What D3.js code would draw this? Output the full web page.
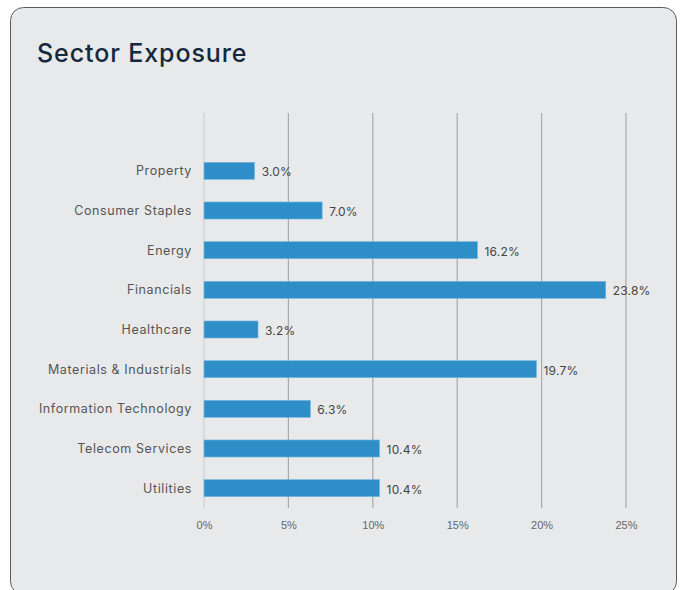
<!DOCTYPE html>
<html lang="en">
<head>
  <meta charset="UTF-8" />
  <title>Sector Exposure</title>
  <style>
    html, body { margin: 0; padding: 0; background: #fff; font-family: Inter, sans-serif; }
    svg { display: block; }
    .cat { font-size: 12.5px; fill: #555; text-anchor: end; dominant-baseline: central; letter-spacing: 0.6px; }
    .val { font-size: 12px; fill: #444; dominant-baseline: central; letter-spacing: 0.2px; }
    .tick text { font-size: 11px; fill: #666; }
  </style>
</head>
<body>
  <svg width="683" height="590"></svg>
  <script src="https://d3js.org/d3.v7.min.js"></script>
  <script>
    const sectors = ["Property", "Consumer Staples", "Energy", "Financials", "Healthcare",
                     "Materials & Industrials", "Information Technology", "Telecom Services", "Utilities"];
    const weights = [3.0, 7.0, 16.2, 23.8, 3.2, 19.7, 6.3, 10.4, 10.4];
    const xTicks = [0, 5, 10, 15, 20, 25];

    const svg = d3.select("svg");

    // card
    svg.append("rect")
      .attr("x", 10.5).attr("y", 7.5)
      .attr("width", 666).attr("height", 587)
      .attr("rx", 13)
      .attr("fill", "#e8e9eb")
      .attr("stroke", "#5a5a5a")
      .attr("stroke-width", 1);

    svg.append("text")
      .attr("x", 37).attr("y", 62)
      .attr("font-size", 25)
      .attr("font-weight", 500)
      .attr("letter-spacing", "0.9px")
      .attr("fill", "#13293d")
      .text("Sector Exposure");

    const x = d3.scaleLinear().domain([0, 25]).range([204, 626]);
    const y = d3.scaleBand().domain(sectors).range([151, 508]).paddingInner(0.57).paddingOuter(0.285);

    // gridlines
    svg.append("g").selectAll("line")
      .data(xTicks)
      .join("line")
      .attr("x1", d => x(d)).attr("x2", d => x(d))
      .attr("y1", 113).attr("y2", 508)
      .attr("stroke", d => d === 0 ? "#cfd0d2" : "#a9a9a9")
      .attr("stroke-width", 1.2);

    // x axis labels
    const axis = svg.append("g")
      .attr("transform", "translate(0,518)")
      .call(d3.axisBottom(x).tickValues(xTicks).tickFormat(d => d + "%").tickSize(0));
    axis.select(".domain").remove();
    axis.selectAll("text").attr("dy", "0.71em");

    const data = sectors.map((s, i) => ({ sector: s, value: weights[i] }));

    svg.append("g").selectAll("rect")
      .data(data)
      .join("rect")
      .attr("x", x(0))
      .attr("y", d => y(d.sector))
      .attr("width", d => x(d.value) - x(0))
      .attr("height", y.bandwidth())
      .attr("fill", "#2e8fc8")
      .attr("stroke", "#7ab8e0")
      .attr("stroke-width", 0.6);

    svg.append("g").selectAll("text")
      .data(data)
      .join("text")
      .attr("class", "cat")
      .attr("x", 192)
      .attr("y", d => y(d.sector) + y.bandwidth() / 2)
      .text(d => d.sector);

    svg.append("g").selectAll("text")
      .data(data)
      .join("text")
      .attr("class", "val")
      .attr("x", d => x(d.value) + 7)
      .attr("y", d => y(d.sector) + y.bandwidth() / 2 + 1)
      .text(d => d.value.toFixed(1) + "%");
  </script>
</body>
</html>
